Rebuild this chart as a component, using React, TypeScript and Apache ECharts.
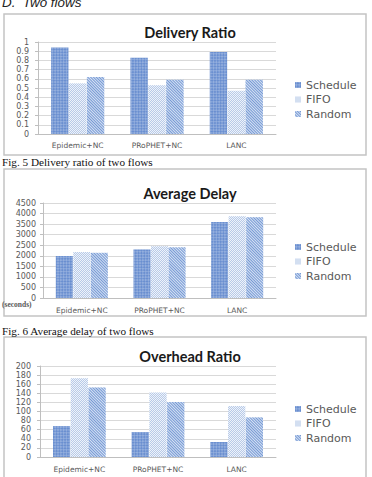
import React, { useEffect, useRef } from "react";
import * as echarts from "echarts";

// Shared categories and series names
const categories = ["Epidemic+NC", "PRoPHET+NC", "LANC"];
const seriesNames = ["Schedule", "FIFO", "Random"];

// Delivery ratio
const deliverySchedule = [0.94, 0.83, 0.89];
const deliveryFifo = [0.55, 0.53, 0.47];
const deliveryRandom = [0.62, 0.59, 0.59];

// Average delay (seconds)
const delaySchedule = [1990, 2300, 3600];
const delayFifo = [2180, 2450, 3870];
const delayRandom = [2140, 2400, 3820];

// Overhead ratio
const overheadSchedule = [68, 55, 33];
const overheadFifo = [173, 142, 112];
const overheadRandom = [153, 121, 87];

const titles = ["Delivery Ratio", "Average Delay", "Overhead Ratio"];
const captions = ["Fig. 5 Delivery ratio of two flows", "Fig. 6 Average delay of two flows"];

const LABEL = "#595959";
const GRID = "#d9d9d9";
const AXIS = "#bfbfbf";
const SANS = "DejaVu Sans";

const styles = [
  {
    color: "#6a8fd0",
    decal: {
      symbol: "rect",
      symbolSize: 1,
      color: "rgba(255,255,255,0.28)",
      dashArrayX: [[2, 2], [0, 2, 2, 0]],
      dashArrayY: [2, 0],
      rotation: Math.PI / 4,
    },
  },
  {
    color: "#eef3fa",
    decal: {
      symbol: "rect",
      symbolSize: 1,
      color: "#b8cae8",
      dashArrayX: [[1, 1], [0, 1, 1, 0]],
      dashArrayY: [1, 0],
    },
  },
  {
    color: "#d6e2f4",
    decal: {
      symbol: "rect",
      symbolSize: 1,
      color: "#7699d4",
      dashArrayX: [1, 0],
      dashArrayY: [1, 1],
      rotation: Math.PI / 4,
    },
  },
];

export default function App() {
  const ref = useRef<HTMLDivElement>(null);

  useEffect(() => {
    if (!ref.current) return;
    const chart = echarts.init(ref.current, undefined, { renderer: "svg" });

    const panels = [
      { data: [deliverySchedule, deliveryFifo, deliveryRandom], max: 1, interval: 0.1,
        grid: { left: 38, right: 96, top: 42, bottom: 343 }, titleTop: 18, legendTop: 74.5, yMargin: 9, xMargin: 7 },
      { data: [delaySchedule, delayFifo, delayRandom], max: 4500, interval: 500,
        grid: { left: 43, right: 96, top: 203, bottom: 179 }, titleTop: 179, legendTop: 236.5, yMargin: 7, xMargin: 8 },
      { data: [overheadSchedule, overheadFifo, overheadRandom], max: 200, interval: 20,
        grid: { left: 40, right: 96, top: 366, bottom: 20 }, titleTop: 342, legendTop: 398.5, yMargin: 9, xMargin: 8 },
    ];

    const series: any[] = [];
    panels.forEach((p, pi) => {
      p.data.forEach((vals, si) => {
        series.push({
          type: "bar",
          name: seriesNames[si],
          xAxisIndex: pi,
          yAxisIndex: pi,
          data: vals,
          barGap: "3%",
          barCategoryGap: "33%",
          itemStyle: { color: styles[si].color, decal: styles[si].decal },
        });
      });
    });

    const boxes = [
      { y: 14, h: 141 },
      { y: 169, h: 147 },
      { y: 337, h: 150 },
    ];

    chart.setOption({
      animation: false,
      backgroundColor: "#ffffff",
      title: panels.map((p, i) => ({
        text: titles[i],
        left: 185,
        textAlign: "center",
        top: p.titleTop,
        textStyle: { fontFamily: "Lato", fontWeight: "bold", fontSize: 14.5, color: "#1a1a1a", lineHeight: 18 },
      })),
      legend: panels.map((p) => ({
        orient: "vertical",
        left: 290,
        top: p.legendTop,
        itemWidth: 6,
        itemHeight: 6,
        itemGap: 3.5,
        icon: "rect",
        data: seriesNames,
        textStyle: { fontFamily: SANS, fontSize: 11, color: LABEL, lineHeight: 11 },
      })),
      grid: panels.map((p) => p.grid),
      xAxis: panels.map((p, i) => ({
        type: "category",
        gridIndex: i,
        data: categories,
        axisLine: { lineStyle: { color: AXIS } },
        axisTick: { show: false },
        axisLabel: { fontFamily: SANS, fontSize: 7.5, color: LABEL, margin: p.xMargin },
      })),
      yAxis: panels.map((p, i) => ({
        type: "value",
        gridIndex: i,
        min: 0,
        max: p.max,
        interval: p.interval,
        axisLine: { show: true, lineStyle: { color: AXIS } },
        axisTick: { show: true, length: 3, lineStyle: { color: AXIS } },
        splitLine: { lineStyle: { color: GRID } },
        axisLabel: {
          fontFamily: SANS,
          fontSize: 8,
          color: LABEL,
          margin: p.yMargin,
          formatter: (v: number) => String(Math.round(v * 10) / 10),
        },
      })),
      series,
      graphic: [
        ...boxes.map((b) => ({
          type: "rect",
          shape: { x: 4, y: b.y, width: 362, height: b.h },
          style: { fill: "none", stroke: "#c4c4c4", lineWidth: 1.5 },
          silent: true,
        })),
        {
          type: "text",
          x: 2,
          y: 9,
          style: {
            text: "D.  Two flows",
            fontFamily: "Liberation Sans",
            fontStyle: "italic",
            fontSize: 13.4,
            fill: "#222",
            verticalAlign: "bottom",
          },
        },
        {
          type: "text",
          x: 2,
          y: 162,
          style: { text: captions[0], fontFamily: "Liberation Serif", fontSize: 11.2, fill: "#111", verticalAlign: "middle" },
        },
        {
          type: "text",
          x: 2,
          y: 331,
          style: { text: captions[1], fontFamily: "Liberation Serif", fontSize: 11.2, fill: "#111", verticalAlign: "middle" },
        },
        {
          type: "text",
          x: 2,
          y: 304.5,
          style: { text: "(seconds)", fontFamily: "Liberation Serif", fontWeight: "bold", fontSize: 7.5, fill: LABEL, verticalAlign: "middle" },
        },
      ],
    });

    return () => chart.dispose();
  }, []);

  return (
    <div
      ref={ref}
      style={{ position: "absolute", left: 0, top: 0, width: 372, height: 477 }}
    />
  );
}
